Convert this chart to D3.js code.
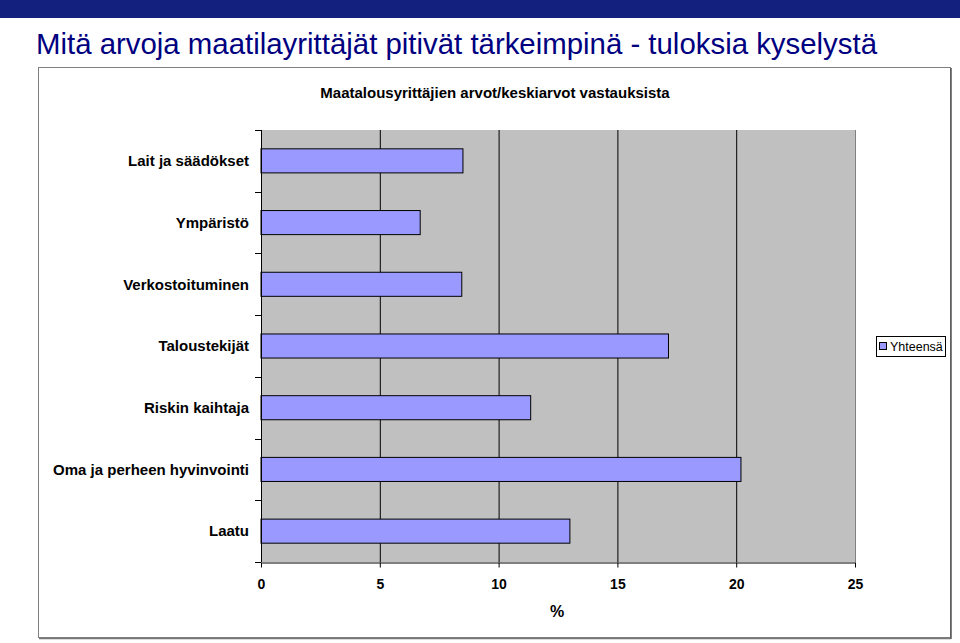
<!DOCTYPE html>
<html><head><meta charset="utf-8">
<script src="https://cdn.jsdelivr.net/npm/d3@7"></script>
<style>body{margin:0;background:#fff;}svg{display:block;}</style>
</head><body>
<svg id="c" width="960" height="643"></svg>
<script>
const categories = ["Lait ja säädökset","Ympäristö","Verkostoituminen","Taloustekijät","Riskin kaihtaja","Oma ja perheen hyvinvointi","Laatu"];
const values = [8.5, 6.7, 8.45, 17.15, 11.35, 20.2, 13.0];
const xTicks = [0,5,10,15,20,25];
const seriesName = "Yhteensä";
const pageTitle = "Mitä arvoja maatilayrittäjät pitivät tärkeimpinä - tuloksia kyselystä";
const chartTitle = "Maatalousyrittäjien arvot/keskiarvot vastauksista";
const xLabel = "%";

const svg = d3.select("#c");
const FF = "Liberation Sans, Arial, sans-serif";
// top band
svg.append("rect").attr("x",0).attr("y",0).attr("width",960).attr("height",18).attr("fill","#14207e");
svg.append("text").attr("x",36).attr("y",54).attr("font-family",FF)
  .attr("font-size",30).attr("fill","#000080").attr("textLength",841).attr("lengthAdjust","spacingAndGlyphs")
  .text(pageTitle);

// frame
svg.append("rect").attr("x",38.5).attr("y",67.5).attr("width",912).attr("height",570)
  .attr("fill","#fff").attr("stroke","#808080").attr("stroke-width",1);
svg.append("line").attr("x1",951).attr("x2",951).attr("y1",68).attr("y2",639).attr("stroke","#555").attr("stroke-width",1.5);
svg.append("line").attr("x1",39).attr("x2",951).attr("y1",638.5).attr("y2",638.5).attr("stroke","#777").attr("stroke-width",1.5);

const L=261, R=855, T=130, B=562;
const x = d3.scaleLinear().domain([0,25]).range([L,R]);
const y = d3.scaleBand().domain(categories).range([T,B]).paddingInner(0.61).paddingOuter(0.305);
const yb = d3.scaleBand().domain(categories).range([T,B]);

svg.append("rect").attr("x",L).attr("y",T).attr("width",R-L).attr("height",B-T).attr("fill","#c0c0c0");

// gridlines
svg.append("g").selectAll("line").data(xTicks.slice(1,-1)).join("line")
  .attr("x1",d=>x(d)+0.5).attr("x2",d=>x(d)+0.5).attr("y1",T).attr("y2",B)
  .attr("stroke","#000").attr("stroke-width",1);
svg.append("line").attr("x1",R+0.5).attr("x2",R+0.5).attr("y1",T).attr("y2",B).attr("stroke","#808080");

// bars
svg.append("g").selectAll("rect").data(categories).join("rect")
  .attr("x",L).attr("y",d=>y(d)).attr("width",(d,i)=>x(values[i])-L).attr("height",y.bandwidth())
  .attr("fill","#9999ff").attr("stroke","#000").attr("stroke-width",1);

// x axis
const xa = svg.append("g").attr("transform",`translate(0,${B+0.5})`)
  .call(d3.axisBottom(x).tickValues(xTicks).tickSize(5).tickSizeOuter(0).tickPadding(12));
xa.select(".domain").attr("stroke","#000");
xa.selectAll("text").attr("font-family",FF).attr("font-size",14)
  .attr("font-weight","bold").attr("fill","#000");

// y axis
const ticksY = categories.map(c=>yb(c)).concat([B]);
svg.append("line").attr("x1",L+0.5).attr("x2",L+0.5).attr("y1",T).attr("y2",B).attr("stroke","#000");
svg.append("g").selectAll("line").data(ticksY).join("line")
  .attr("x1",L-6).attr("x2",L).attr("y1",d=>Math.round(d)+0.5).attr("y2",d=>Math.round(d)+0.5).attr("stroke","#000");
svg.append("g").selectAll("text").data(categories).join("text")
  .attr("x",249).attr("y",d=>yb(d)+yb.bandwidth()/2).attr("dy","0.35em").attr("text-anchor","end")
  .attr("font-family",FF).attr("font-size",15).attr("font-weight","bold")
  .text(d=>d);

// titles
svg.append("text").attr("x",495).attr("y",98).attr("text-anchor","middle")
  .attr("font-family",FF).attr("font-size",15).attr("font-weight","bold")
  .text(chartTitle);
svg.append("text").attr("x",557).attr("y",617).attr("text-anchor","middle")
  .attr("font-family",FF).attr("font-size",16).attr("font-weight","bold")
  .text(xLabel);

// legend
const lg = svg.append("g");
lg.append("rect").attr("x",876.5).attr("y",336.5).attr("width",69).attr("height",20).attr("fill","#fff").attr("stroke","#000");
lg.append("rect").attr("x",879.5).attr("y",342.5).attr("width",7).attr("height",7).attr("fill","#9999ff").attr("stroke","#000");
lg.append("text").attr("x",890).attr("y",351).attr("font-family",FF)
  .attr("font-size",12.5).attr("fill","#000").text(seriesName);
</script>
</body></html>
